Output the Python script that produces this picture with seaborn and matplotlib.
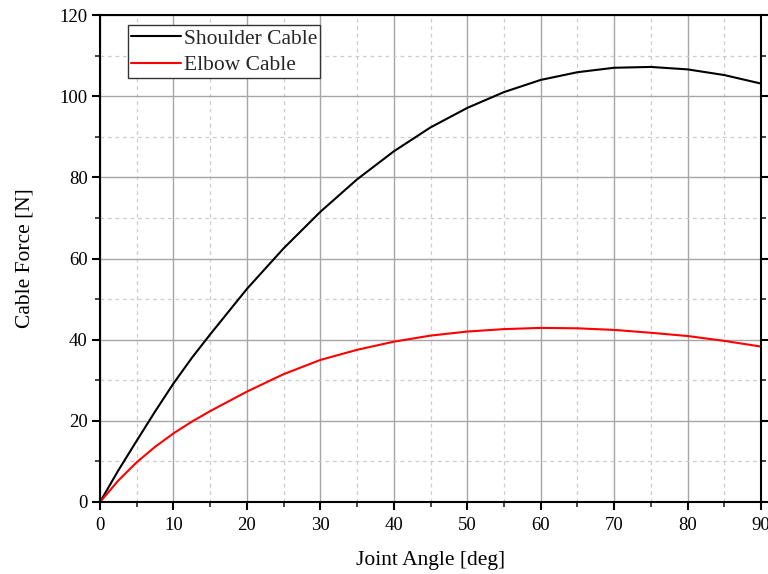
import numpy as np
import pandas as pd
import matplotlib
matplotlib.use("Agg")
import matplotlib.pyplot as plt
import seaborn as sns
from matplotlib.ticker import MultipleLocator

# Joint angle samples [deg] and cable forces [N]
joint_angle = [0, 2.5, 5, 7.5, 10, 12.5, 15, 20, 25, 30, 35, 40, 45, 50, 55,
               60, 65, 70, 75, 80, 85, 90]
shoulder_force = [0, 7.8, 15.1, 22.3, 29.2, 35.5, 41.3, 52.5, 62.5, 71.5, 79.5,
                  86.4, 92.3, 97.1, 101.0, 104.0, 105.9, 107.0, 107.2, 106.6,
                  105.2, 103.1]
elbow_force = [0, 5.3, 9.8, 13.6, 16.9, 19.8, 22.4, 27.2, 31.5, 35.0, 37.5,
               39.5, 41.0, 42.0, 42.6, 42.9, 42.8, 42.4, 41.7, 40.9, 39.7, 38.3]
series_names = ["Shoulder Cable", "Elbow Cable"]
series_colors = ["black", "red"]

df = pd.DataFrame({
    "angle": joint_angle * 2,
    "force": shoulder_force + elbow_force,
    "cable": [series_names[0]] * len(joint_angle) + [series_names[1]] * len(joint_angle),
})

sns.set_theme(style="ticks")
plt.rcParams["font.family"] = ["Liberation Serif", "DejaVu Serif"]
plt.rcParams["mathtext.fontset"] = "stix"

fig = plt.figure(figsize=(7.68, 5.74), dpi=100)
ax = fig.add_axes([100 / 768, 72 / 574, 661 / 768, 487 / 574])

sns.lineplot(data=df, x="angle", y="force", hue="cable",
             palette=dict(zip(series_names, series_colors)),
             linewidth=1.5, ax=ax, legend=True)
for ln in ax.get_lines():
    ln.set_solid_joinstyle("round")

ax.set_xlim(0, 90)
ax.set_ylim(0, 120)
ax.xaxis.set_major_locator(MultipleLocator(10))
ax.xaxis.set_minor_locator(MultipleLocator(5))
ax.yaxis.set_major_locator(MultipleLocator(20))
ax.yaxis.set_minor_locator(MultipleLocator(10))

ax.grid(which="major", color="#a6a6a6", linestyle="-", linewidth=1.0)
ax.grid(which="minor", color="#cccccc", linestyle=(0, (3, 3)), linewidth=0.9)
ax.set_axisbelow(True)

for side in ["left", "bottom", "right", "top"]:
    ax.spines[side].set_visible(True)
    ax.spines[side].set_color("black")
    ax.spines[side].set_linewidth(1.5)

ax.tick_params(axis="both", which="major", direction="out", length=6, width=1.5,
               labelsize=13.5, colors="black", pad=3)
ax.tick_params(axis="both", which="minor", direction="out", length=3.5, width=1.2)
ax.tick_params(axis="y", which="both", right=True, labelright=False)
ax.tick_params(axis="x", which="both", top=False)
ax.tick_params(axis="x", which="major", pad=5)

ax.set_xlabel("Joint Angle [deg]", fontsize=15.5, color="black", labelpad=12)
ax.set_ylabel("Cable Force [N]", fontsize=15.5, color="black", labelpad=18)

leg = ax.legend(loc="upper left", bbox_to_anchor=(0.042, 0.979), fontsize=15.5,
                frameon=True, fancybox=False, shadow=False, handlelength=2.3,
                handletextpad=0.15, borderpad=0.15, borderaxespad=0.0,
                labelspacing=0.3, title=None)
leg.get_frame().set_edgecolor("#333333")
leg.get_frame().set_linewidth(1.0)
leg.get_frame().set_alpha(1.0)
for h in leg.get_lines():
    h.set_linewidth(1.5)

fig.savefig("out.png", dpi=100)
